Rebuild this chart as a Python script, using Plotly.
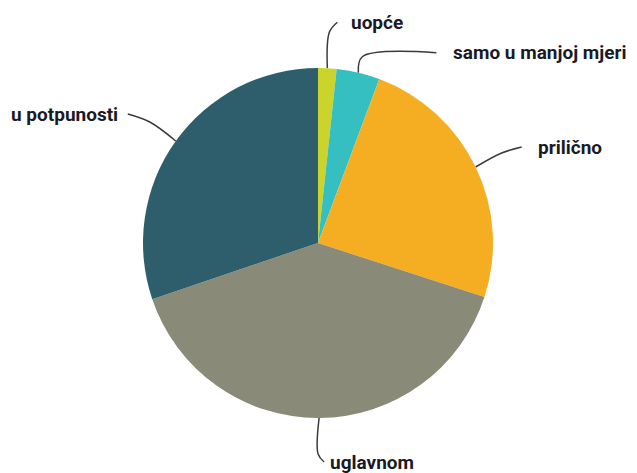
import math
import plotly.graph_objects as go

labels = ["uopće", "samo u manjoj mjeri", "prilično", "uglavnom", "u potpunosti"]
values = [1.7, 4.0, 24.3, 39.8, 30.2]
colors = ["#cbd42c", "#36bfc0", "#f5ae21", "#8a8a79", "#2e5e6b"]

W, H = 637, 473
TOP, BOTTOM = 68, 418
R = (BOTTOM - TOP) / 2
CX, CY = 318, (TOP + BOTTOM) / 2

fig = go.Figure()
fig.add_trace(go.Pie(
    labels=labels, values=values, sort=False, direction="clockwise", rotation=0,
    marker=dict(colors=colors, line=dict(width=0)),
    textinfo="none", hoverinfo="label+percent", showlegend=False,
    domain=dict(x=[0, 2 * CX / W], y=[(H - BOTTOM) / H, (H - TOP) / H]),
))

# leader line geometry (style): elbow offset and end offset relative to anchor, label side
leader = {
    "uopće": dict(elbow=(2, -36), end=(10, -46), anchor="left", gap=12),
    "samo u manjoj mjeri": dict(elbow=(4, -16), end=(78, -20), anchor="left", gap=15),
    "prilično": dict(elbow=(26, -14), end=(46, -20), anchor="left", gap=14),
    "uglavnom": dict(elbow=(-1, 36), end=(5, 44), anchor="left", gap=4),
    "u potpunosti": dict(elbow=(-26, -19), end=(-48, -27), anchor="right", gap=8),
}

total = sum(values)
cum = 0
for lab, v in zip(labels, values):
    mid = (cum + v / 2) / total * 2 * math.pi
    cum += v
    ax = CX + R * math.sin(mid)
    ay = CY - R * math.cos(mid)
    g = leader[lab]
    ex, ey = ax + g["elbow"][0], ay + g["elbow"][1]
    nx, ny = ax + g["end"][0], ay + g["end"][1]
    fig.add_trace(go.Scatter(
        x=[ax, ex, nx], y=[ay, ey, ny], mode="lines",
        line=dict(color="#3a3a3a", width=1.5, shape="spline", smoothing=1.0),
        hoverinfo="skip", showlegend=False,
    ))
    tx = nx + (g["gap"] if g["anchor"] == "left" else -g["gap"])
    fig.add_annotation(
        x=tx, y=ny, xref="x", yref="y", text=lab, showarrow=False,
        xanchor=g["anchor"], yanchor="middle",
        font=dict(family="Roboto", size=19, weight="bold", color="#1a1a26"),
    )

fig.update_layout(
    width=W, height=H, margin=dict(l=0, r=0, t=0, b=0),
    paper_bgcolor="white", plot_bgcolor="rgba(0,0,0,0)",
    xaxis=dict(range=[0, W], visible=False, fixedrange=True),
    yaxis=dict(range=[H, 0], visible=False, fixedrange=True),
)
fig.write_html("out.html", post_script="document.body.style.margin='0';",
               config={"displayModeBar": False})
